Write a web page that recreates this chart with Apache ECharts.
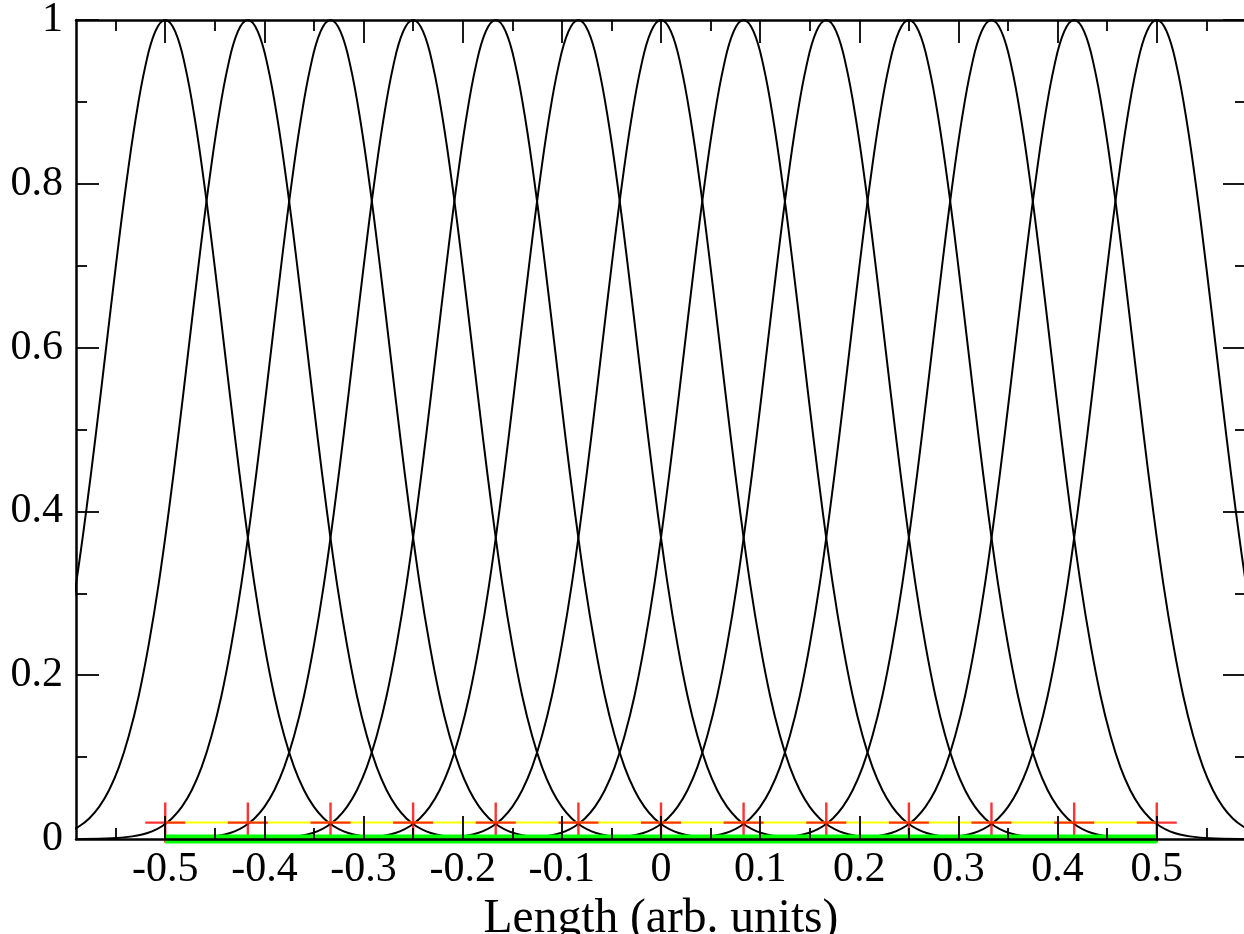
<!DOCTYPE html>
<html>
<head>
<meta charset="utf-8">
<script src="https://cdn.jsdelivr.net/npm/echarts@6/dist/echarts.min.js"></script>
<style>
html,body{margin:0;padding:0;background:#fff;}
#chart{width:1244px;height:934px;}
</style>
</head>
<body>
<div id="chart"></div>
<script>
// Centres of the 13 peaks (x) and marker height
const centers = [-0.5, -0.4167, -0.3333, -0.25, -0.1667, -0.0833, 0, 0.0833, 0.1667, 0.25, 0.3333, 0.4167, 0.5];
const markerY = [0.02, 0.02, 0.02, 0.02, 0.02, 0.02, 0.02, 0.02, 0.02, 0.02, 0.02, 0.02, 0.02];
// Shared peak profile: offset from centre -> height
const profileOffsets = [-0.25, -0.22, -0.20, -0.19, -0.18, -0.17, -0.16, -0.15, -0.14, -0.13, -0.12, -0.11, -0.10, -0.09, -0.08, -0.07, -0.06, -0.05, -0.04, -0.03, -0.02, -0.01, 0,
  0.01, 0.02, 0.03, 0.04, 0.05, 0.06, 0.07, 0.08, 0.09, 0.10, 0.11, 0.12, 0.13, 0.14, 0.15, 0.16, 0.17, 0.18, 0.19, 0.20, 0.22, 0.25];
const profileValues = [0.0001, 0.0009, 0.0032, 0.0055, 0.0094, 0.0156, 0.0251, 0.0392, 0.0595, 0.0877, 0.126, 0.175, 0.237, 0.311, 0.398, 0.494, 0.596, 0.698, 0.794, 0.878, 0.944, 0.986, 1.0,
  0.986, 0.944, 0.878, 0.794, 0.698, 0.596, 0.494, 0.398, 0.311, 0.237, 0.175, 0.126, 0.0877, 0.0595, 0.0392, 0.0251, 0.0156, 0.0094, 0.0055, 0.0032, 0.0009, 0.0001];
// Baseline (green) segment
const baseX = [-0.5, 0.5];
const baseY = [0, 0];
// Tick labels
const xTickValues = [-0.5, -0.4, -0.3, -0.2, -0.1, 0, 0.1, 0.2, 0.3, 0.4, 0.5];
const xTickLabels = ['-0.5', '-0.4', '-0.3', '-0.2', '-0.1', '0', '0.1', '0.2', '0.3', '0.4', '0.5'];
const xMinorValues = [-0.55, -0.45, -0.35, -0.25, -0.15, -0.05, 0.05, 0.15, 0.25, 0.35, 0.45, 0.55];
const xRange = [-0.59, 0.59];
const yRange = [0, 1];
const axisTitle = 'Length (arb. units)';

const FONT = '"Liberation Serif", "DejaVu Serif", serif';
const chart = echarts.init(document.getElementById('chart'), null, {renderer: 'canvas'});

const series = [];
centers.forEach((c, i) => {
  series.push({
    type: 'line', xAxisIndex: 0, yAxisIndex: 0,
    data: profileOffsets.map((o, j) => [c + o, profileValues[j]]),
    smooth: 0.4, showSymbol: false, symbol: 'none',
    lineStyle: {color: '#000', width: 2}, z: 2, silent: true, animation: false
  });
});
const markerData = centers.map((c, i) => [c, markerY[i]]);
series.push({
  type: 'line', xAxisIndex: 0, yAxisIndex: 0, data: markerData,
  showSymbol: false, symbol: 'none',
  lineStyle: {color: '#ffff00', width: 2}, z: 3, animation: false
});
series.push({
  type: 'scatter', xAxisIndex: 0, yAxisIndex: 0, data: markerData,
  symbol: 'path://M18.8,0 L21.2,0 L21.2,18.8 L40,18.8 L40,21.2 L21.2,21.2 L21.2,40 L18.8,40 L18.8,21.2 L0,21.2 L0,18.8 L18.8,18.8 Z',
  symbolSize: 40, symbolKeepAspect: true,
  itemStyle: {color: '#ff0000'}, z: 4, animation: false
});
series.push({
  type: 'line', xAxisIndex: 0, yAxisIndex: 0,
  data: baseX.map((x, i) => [x, baseY[i]]),
  showSymbol: false, symbol: 'none', clip: false,
  lineStyle: {color: '#00ff00', width: 9}, z: 5, animation: false
});

const lineStyle = {color: '#000', width: 2.5};
const tickStyle = {color: '#000', width: 1.8};

const option = {
  backgroundColor: '#fff',
  animation: false,
  grid: {left: 76, right: -2, top: 20, bottom: 95, containLabel: false, outerBoundsMode: 'none'},
  xAxis: [
    {
      type: 'value', position: 'bottom', min: xRange[0], max: xRange[1], z: 10,
      axisLine: {show: true, onZero: false, lineStyle: lineStyle},
      axisTick: {show: true, inside: true, length: 23, customValues: xTickValues, lineStyle: tickStyle},
      axisLabel: {show: true, customValues: xTickValues, margin: 10, color: '#000', fontFamily: FONT, fontSize: 42,
        formatter: v => { const k = xTickValues.findIndex(t => Math.abs(t - v) < 1e-6); return k >= 0 ? xTickLabels[k] : ''; }},
      splitLine: {show: false},
      name: axisTitle, nameLocation: 'middle', nameGap: 46,
      nameTextStyle: {color: '#000', fontFamily: FONT, fontSize: 47.5}
    },
    {
      type: 'value', position: 'bottom', min: xRange[0], max: xRange[1], z: 10,
      axisLine: {show: false, onZero: false},
      axisTick: {show: true, inside: true, length: 11, customValues: xMinorValues, lineStyle: tickStyle},
      axisLabel: {show: false}, splitLine: {show: false}
    },
    {
      type: 'value', position: 'top', min: xRange[0], max: xRange[1], z: 10,
      axisLine: {show: true, onZero: false, lineStyle: lineStyle},
      axisTick: {show: true, inside: true, length: 23, customValues: xTickValues, lineStyle: tickStyle},
      axisLabel: {show: false}, splitLine: {show: false}
    },
    {
      type: 'value', position: 'top', min: xRange[0], max: xRange[1], z: 10,
      axisLine: {show: false, onZero: false},
      axisTick: {show: true, inside: true, length: 11, customValues: xMinorValues, lineStyle: tickStyle},
      axisLabel: {show: false}, splitLine: {show: false}
    }
  ],
  yAxis: [
    {
      type: 'value', position: 'left', min: yRange[0], max: yRange[1], interval: 0.2, z: 10,
      axisLine: {show: true, onZero: false, lineStyle: lineStyle},
      axisTick: {show: true, inside: true, length: 23, lineStyle: tickStyle},
      minorTick: {show: true, splitNumber: 2, length: 11, lineStyle: tickStyle},
      axisLabel: {show: true, margin: 13, color: '#000', fontFamily: FONT, fontSize: 42},
      splitLine: {show: false}
    },
    {
      type: 'value', position: 'right', min: yRange[0], max: yRange[1], interval: 0.2, z: 10,
      axisLine: {show: true, onZero: false, lineStyle: lineStyle},
      axisTick: {show: true, inside: true, length: 23, lineStyle: tickStyle},
      minorTick: {show: true, splitNumber: 2, length: 11, lineStyle: tickStyle},
      axisLabel: {show: false},
      splitLine: {show: false}
    }
  ],
  series: series
};
chart.setOption(option);
</script>
</body>
</html>
